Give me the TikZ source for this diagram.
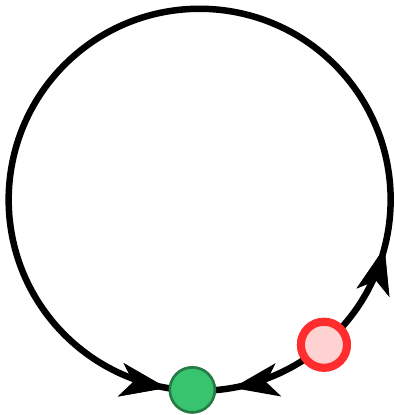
\documentclass[tikz,border=0pt]{standalone}
\usetikzlibrary{arrows.meta,decorations.markings,calc}
\definecolor{dotgreen}{HTML}{38C46E}
\definecolor{dotgreenedge}{HTML}{257A45}
\definecolor{ringred}{HTML}{FF2D2D}
\definecolor{ringfill}{HTML}{FFD2D2}
\tikzset{
  orbit/.style={line width=6.5pt, black},
  bigtip/.tip={Stealth[length=46pt,width=33pt,inset=12pt]},
  greendot/.style={circle, minimum size=45pt, inner sep=0pt, fill=dotgreen, draw=dotgreenedge, line width=2.5pt},
  reddot/.style={circle, minimum size=46pt, inner sep=0pt, fill=ringfill, draw=ringred, line width=8pt},
  arrowat/.style={postaction={decorate}, decoration={markings, mark=at position #1 with {\arrow{bigtip}}}}
}
\begin{document}
\begin{tikzpicture}[x=1pt,y=1pt]
  \useasboundingbox (0,0) rectangle (395,415);
  \coordinate (c) at (199,216);
  \coordinate (rpos) at ($(c)+(-49.4:192)$);
  \coordinate (gpos) at ($(c)+(-92:191)$);
  \node[reddot] (red) at (rpos) {};
  \node[greendot] (green) at (gpos) {};
  % long way round, counterclockwise
  \draw[orbit, arrowat=0.11, arrowat=0.975] (red.center) arc[start angle=-49.4, end angle=268, radius=191];
  % short way, clockwise
  \draw[orbit, arrowat=0.72] (red.center) arc[start angle=-49.4, end angle=-92, radius=191];
  \node[reddot] at (red.center) {};
  \node[greendot] at (green.center) {};
\end{tikzpicture}
\end{document}
